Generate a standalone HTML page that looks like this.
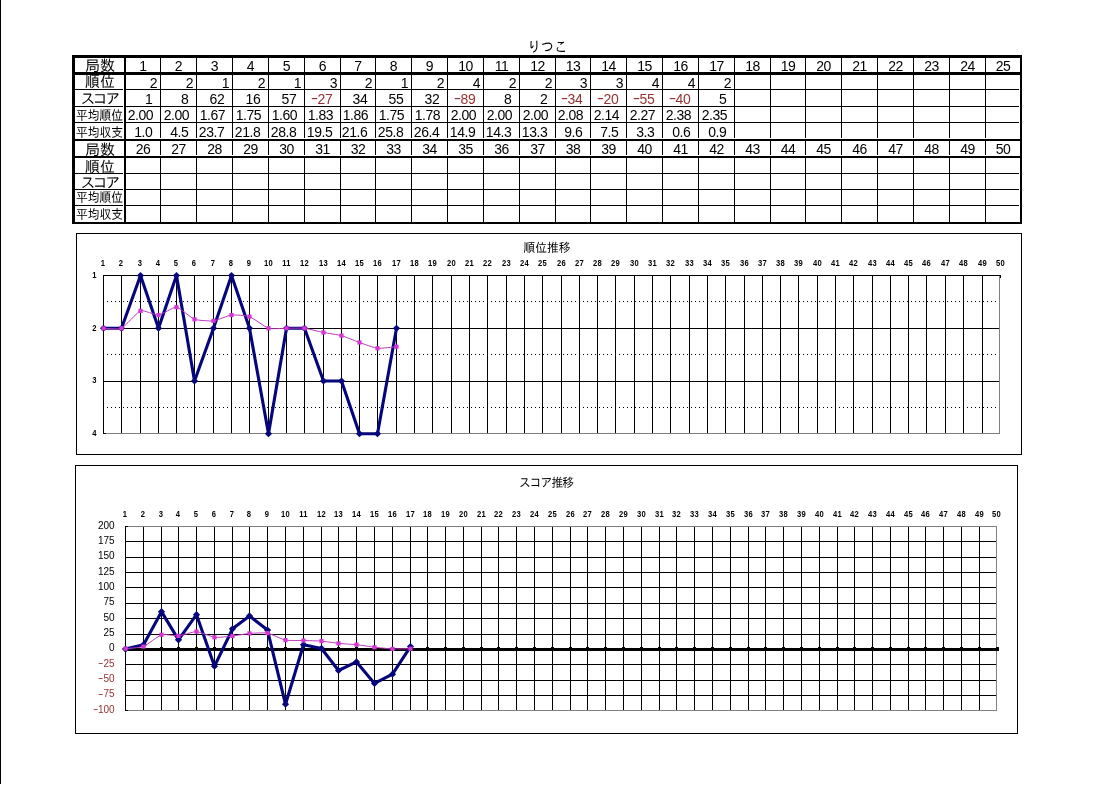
<!DOCTYPE html>
<html lang="ja">
<head>
<meta charset="utf-8">
<title>りつこ</title>
<style>
html,body{margin:0;padding:0;background:#fff;}
body{width:1112px;height:789px;position:relative;overflow:hidden;font-family:"Liberation Sans", "IPAGothic", "Noto Sans CJK JP", sans-serif;color:#000;}
svg{position:absolute;left:0;top:0;}
.t{position:absolute;white-space:nowrap;overflow:visible;}
.ttl{font-size:13.3px;transform:scaleY(1.1);}
.h14{font-size:15px;}
.hk{font-size:15px;letter-spacing:-2.7px;}
.h11{font-size:11.8px;transform:scaleY(1.13);}
.n{font-size:14px;letter-spacing:-0.45px;}
.m{display:inline-block;transform:scaleX(1.6);margin:0 1.5px 0 1.7px;position:relative;top:-0.8px;}
.yl .m{margin:0 1px 0 1.2px;}
.neg{color:#963232;}
.ct{font-size:11.8px;transform:scaleY(1.06);}
.ctk{letter-spacing:-1px;}
.cl{font-size:8px;font-weight:bold;letter-spacing:0.3px;transform:translate(-0.5px,0) scale(0.95,1.15);}
.c1{transform:translate(-0.95px,0) scale(0.95,1.15);}
.yl{font-size:10px;}
</style>
</head>
<body>
<svg width="1112" height="789" viewBox="0 0 1112 789">
<g shape-rendering="crispEdges">
<rect x="0" y="0" width="1" height="784" fill="#000"/>
<rect x="72" y="55" width="950" height="3" fill="#000"/>
<rect x="72" y="222" width="950" height="2" fill="#000"/>
<rect x="72" y="55" width="3" height="169" fill="#000"/>
<rect x="1020" y="55" width="2" height="169" fill="#000"/>
<rect x="124" y="55" width="2" height="169" fill="#000"/>
<rect x="72" y="72" width="950" height="3" fill="#000"/>
<rect x="72" y="139" width="950" height="2" fill="#000"/>
<rect x="72" y="156" width="950" height="2" fill="#000"/>
<rect x="75" y="89" width="48" height="1" fill="#000"/>
<rect x="126" y="89" width="893" height="1" fill="#000"/>
<rect x="75" y="106" width="48" height="1" fill="#000"/>
<rect x="126" y="106" width="893" height="1" fill="#000"/>
<rect x="75" y="122" width="48" height="1" fill="#000"/>
<rect x="126" y="122" width="893" height="1" fill="#000"/>
<rect x="75" y="173" width="48" height="1" fill="#000"/>
<rect x="126" y="173" width="893" height="1" fill="#000"/>
<rect x="75" y="189" width="48" height="1" fill="#000"/>
<rect x="126" y="189" width="893" height="1" fill="#000"/>
<rect x="75" y="205" width="48" height="1" fill="#000"/>
<rect x="126" y="205" width="893" height="1" fill="#000"/>
<rect x="160" y="58" width="1" height="80" fill="#000"/>
<rect x="160" y="141" width="1" height="14" fill="#000"/>
<rect x="160" y="158" width="1" height="64" fill="#000"/>
<rect x="196" y="58" width="1" height="80" fill="#000"/>
<rect x="196" y="141" width="1" height="14" fill="#000"/>
<rect x="196" y="158" width="1" height="64" fill="#000"/>
<rect x="232" y="58" width="1" height="80" fill="#000"/>
<rect x="232" y="141" width="1" height="14" fill="#000"/>
<rect x="232" y="158" width="1" height="64" fill="#000"/>
<rect x="268" y="58" width="1" height="80" fill="#000"/>
<rect x="268" y="141" width="1" height="14" fill="#000"/>
<rect x="268" y="158" width="1" height="64" fill="#000"/>
<rect x="304" y="58" width="1" height="80" fill="#000"/>
<rect x="304" y="141" width="1" height="14" fill="#000"/>
<rect x="304" y="158" width="1" height="64" fill="#000"/>
<rect x="340" y="58" width="1" height="80" fill="#000"/>
<rect x="340" y="141" width="1" height="14" fill="#000"/>
<rect x="340" y="158" width="1" height="64" fill="#000"/>
<rect x="375" y="58" width="1" height="80" fill="#000"/>
<rect x="375" y="141" width="1" height="14" fill="#000"/>
<rect x="375" y="158" width="1" height="64" fill="#000"/>
<rect x="411" y="58" width="1" height="80" fill="#000"/>
<rect x="411" y="141" width="1" height="14" fill="#000"/>
<rect x="411" y="158" width="1" height="64" fill="#000"/>
<rect x="447" y="58" width="1" height="80" fill="#000"/>
<rect x="447" y="141" width="1" height="14" fill="#000"/>
<rect x="447" y="158" width="1" height="64" fill="#000"/>
<rect x="483" y="58" width="1" height="80" fill="#000"/>
<rect x="483" y="141" width="1" height="14" fill="#000"/>
<rect x="483" y="158" width="1" height="64" fill="#000"/>
<rect x="519" y="58" width="1" height="80" fill="#000"/>
<rect x="519" y="141" width="1" height="14" fill="#000"/>
<rect x="519" y="158" width="1" height="64" fill="#000"/>
<rect x="555" y="58" width="1" height="80" fill="#000"/>
<rect x="555" y="141" width="1" height="14" fill="#000"/>
<rect x="555" y="158" width="1" height="64" fill="#000"/>
<rect x="590" y="58" width="1" height="80" fill="#000"/>
<rect x="590" y="141" width="1" height="14" fill="#000"/>
<rect x="590" y="158" width="1" height="64" fill="#000"/>
<rect x="626" y="58" width="1" height="80" fill="#000"/>
<rect x="626" y="141" width="1" height="14" fill="#000"/>
<rect x="626" y="158" width="1" height="64" fill="#000"/>
<rect x="662" y="58" width="1" height="80" fill="#000"/>
<rect x="662" y="141" width="1" height="14" fill="#000"/>
<rect x="662" y="158" width="1" height="64" fill="#000"/>
<rect x="698" y="58" width="1" height="80" fill="#000"/>
<rect x="698" y="141" width="1" height="14" fill="#000"/>
<rect x="698" y="158" width="1" height="64" fill="#000"/>
<rect x="734" y="58" width="1" height="80" fill="#000"/>
<rect x="734" y="141" width="1" height="14" fill="#000"/>
<rect x="734" y="158" width="1" height="64" fill="#000"/>
<rect x="770" y="58" width="1" height="80" fill="#000"/>
<rect x="770" y="141" width="1" height="14" fill="#000"/>
<rect x="770" y="158" width="1" height="64" fill="#000"/>
<rect x="805" y="58" width="1" height="80" fill="#000"/>
<rect x="805" y="141" width="1" height="14" fill="#000"/>
<rect x="805" y="158" width="1" height="64" fill="#000"/>
<rect x="841" y="58" width="1" height="80" fill="#000"/>
<rect x="841" y="141" width="1" height="14" fill="#000"/>
<rect x="841" y="158" width="1" height="64" fill="#000"/>
<rect x="877" y="58" width="1" height="80" fill="#000"/>
<rect x="877" y="141" width="1" height="14" fill="#000"/>
<rect x="877" y="158" width="1" height="64" fill="#000"/>
<rect x="913" y="58" width="1" height="80" fill="#000"/>
<rect x="913" y="141" width="1" height="14" fill="#000"/>
<rect x="913" y="158" width="1" height="64" fill="#000"/>
<rect x="949" y="58" width="1" height="80" fill="#000"/>
<rect x="949" y="141" width="1" height="14" fill="#000"/>
<rect x="949" y="158" width="1" height="64" fill="#000"/>
<rect x="985" y="58" width="1" height="80" fill="#000"/>
<rect x="985" y="141" width="1" height="14" fill="#000"/>
<rect x="985" y="158" width="1" height="64" fill="#000"/>
<rect x="76" y="233" width="946" height="1" fill="#000"/>
<rect x="76" y="454" width="946" height="1" fill="#000"/>
<rect x="76" y="233" width="1" height="222" fill="#000"/>
<rect x="1021" y="233" width="1" height="222" fill="#000"/>
<rect x="103" y="433" width="897" height="1" fill="#808080"/>
<rect x="999" y="275" width="1" height="159" fill="#808080"/>
<rect x="103" y="275" width="1" height="159" fill="#000"/>
<rect x="121" y="275" width="1" height="158" fill="#000"/>
<rect x="140" y="275" width="1" height="158" fill="#000"/>
<rect x="158" y="275" width="1" height="158" fill="#000"/>
<rect x="176" y="275" width="1" height="158" fill="#000"/>
<rect x="194" y="275" width="1" height="158" fill="#000"/>
<rect x="213" y="275" width="1" height="158" fill="#000"/>
<rect x="231" y="275" width="1" height="158" fill="#000"/>
<rect x="249" y="275" width="1" height="158" fill="#000"/>
<rect x="268" y="275" width="1" height="158" fill="#000"/>
<rect x="286" y="275" width="1" height="158" fill="#000"/>
<rect x="304" y="275" width="1" height="158" fill="#000"/>
<rect x="323" y="275" width="1" height="158" fill="#000"/>
<rect x="341" y="275" width="1" height="158" fill="#000"/>
<rect x="359" y="275" width="1" height="158" fill="#000"/>
<rect x="377" y="275" width="1" height="158" fill="#000"/>
<rect x="396" y="275" width="1" height="158" fill="#000"/>
<rect x="414" y="275" width="1" height="158" fill="#000"/>
<rect x="432" y="275" width="1" height="158" fill="#000"/>
<rect x="451" y="275" width="1" height="158" fill="#000"/>
<rect x="469" y="275" width="1" height="158" fill="#000"/>
<rect x="487" y="275" width="1" height="158" fill="#000"/>
<rect x="506" y="275" width="1" height="158" fill="#000"/>
<rect x="524" y="275" width="1" height="158" fill="#000"/>
<rect x="542" y="275" width="1" height="158" fill="#000"/>
<rect x="561" y="275" width="1" height="158" fill="#000"/>
<rect x="579" y="275" width="1" height="158" fill="#000"/>
<rect x="597" y="275" width="1" height="158" fill="#000"/>
<rect x="615" y="275" width="1" height="158" fill="#000"/>
<rect x="634" y="275" width="1" height="158" fill="#000"/>
<rect x="652" y="275" width="1" height="158" fill="#000"/>
<rect x="670" y="275" width="1" height="158" fill="#000"/>
<rect x="689" y="275" width="1" height="158" fill="#000"/>
<rect x="707" y="275" width="1" height="158" fill="#000"/>
<rect x="725" y="275" width="1" height="158" fill="#000"/>
<rect x="744" y="275" width="1" height="158" fill="#000"/>
<rect x="762" y="275" width="1" height="158" fill="#000"/>
<rect x="780" y="275" width="1" height="158" fill="#000"/>
<rect x="798" y="275" width="1" height="158" fill="#000"/>
<rect x="817" y="275" width="1" height="158" fill="#000"/>
<rect x="835" y="275" width="1" height="158" fill="#000"/>
<rect x="853" y="275" width="1" height="158" fill="#000"/>
<rect x="872" y="275" width="1" height="158" fill="#000"/>
<rect x="890" y="275" width="1" height="158" fill="#000"/>
<rect x="908" y="275" width="1" height="158" fill="#000"/>
<rect x="926" y="275" width="1" height="158" fill="#000"/>
<rect x="945" y="275" width="1" height="158" fill="#000"/>
<rect x="963" y="275" width="1" height="158" fill="#000"/>
<rect x="982" y="275" width="1" height="158" fill="#000"/>
<rect x="103" y="275" width="897" height="1" fill="#000"/>
<rect x="103" y="328" width="896" height="1" fill="#000"/>
<rect x="103" y="381" width="896" height="1" fill="#000"/>
<rect x="103" y="433" width="3" height="1" fill="#000"/>
<rect x="1000" y="275" width="1" height="3" fill="#000"/>
<rect x="75" y="465" width="943" height="1" fill="#000"/>
<rect x="75" y="733" width="943" height="1" fill="#000"/>
<rect x="75" y="465" width="1" height="269" fill="#000"/>
<rect x="1017" y="465" width="1" height="269" fill="#000"/>
<rect x="125" y="526" width="872" height="1" fill="#808080"/>
<rect x="125" y="710" width="872" height="1" fill="#808080"/>
<rect x="996" y="526" width="1" height="185" fill="#808080"/>
<rect x="125" y="526" width="1" height="185" fill="#000"/>
<rect x="143" y="527" width="1" height="183" fill="#000"/>
<rect x="161" y="527" width="1" height="183" fill="#000"/>
<rect x="178" y="527" width="1" height="183" fill="#000"/>
<rect x="196" y="527" width="1" height="183" fill="#000"/>
<rect x="214" y="527" width="1" height="183" fill="#000"/>
<rect x="232" y="527" width="1" height="183" fill="#000"/>
<rect x="249" y="527" width="1" height="183" fill="#000"/>
<rect x="267" y="527" width="1" height="183" fill="#000"/>
<rect x="285" y="527" width="1" height="183" fill="#000"/>
<rect x="303" y="527" width="1" height="183" fill="#000"/>
<rect x="321" y="527" width="1" height="183" fill="#000"/>
<rect x="338" y="527" width="1" height="183" fill="#000"/>
<rect x="356" y="527" width="1" height="183" fill="#000"/>
<rect x="374" y="527" width="1" height="183" fill="#000"/>
<rect x="392" y="527" width="1" height="183" fill="#000"/>
<rect x="410" y="527" width="1" height="183" fill="#000"/>
<rect x="427" y="527" width="1" height="183" fill="#000"/>
<rect x="445" y="527" width="1" height="183" fill="#000"/>
<rect x="463" y="527" width="1" height="183" fill="#000"/>
<rect x="481" y="527" width="1" height="183" fill="#000"/>
<rect x="498" y="527" width="1" height="183" fill="#000"/>
<rect x="516" y="527" width="1" height="183" fill="#000"/>
<rect x="534" y="527" width="1" height="183" fill="#000"/>
<rect x="552" y="527" width="1" height="183" fill="#000"/>
<rect x="570" y="527" width="1" height="183" fill="#000"/>
<rect x="587" y="527" width="1" height="183" fill="#000"/>
<rect x="605" y="527" width="1" height="183" fill="#000"/>
<rect x="623" y="527" width="1" height="183" fill="#000"/>
<rect x="641" y="527" width="1" height="183" fill="#000"/>
<rect x="659" y="527" width="1" height="183" fill="#000"/>
<rect x="676" y="527" width="1" height="183" fill="#000"/>
<rect x="694" y="527" width="1" height="183" fill="#000"/>
<rect x="712" y="527" width="1" height="183" fill="#000"/>
<rect x="730" y="527" width="1" height="183" fill="#000"/>
<rect x="748" y="527" width="1" height="183" fill="#000"/>
<rect x="765" y="527" width="1" height="183" fill="#000"/>
<rect x="783" y="527" width="1" height="183" fill="#000"/>
<rect x="801" y="527" width="1" height="183" fill="#000"/>
<rect x="819" y="527" width="1" height="183" fill="#000"/>
<rect x="837" y="527" width="1" height="183" fill="#000"/>
<rect x="854" y="527" width="1" height="183" fill="#000"/>
<rect x="872" y="527" width="1" height="183" fill="#000"/>
<rect x="890" y="527" width="1" height="183" fill="#000"/>
<rect x="908" y="527" width="1" height="183" fill="#000"/>
<rect x="925" y="527" width="1" height="183" fill="#000"/>
<rect x="943" y="527" width="1" height="183" fill="#000"/>
<rect x="961" y="527" width="1" height="183" fill="#000"/>
<rect x="979" y="527" width="1" height="183" fill="#000"/>
<rect x="125" y="695" width="871" height="1" fill="#000"/>
<rect x="125" y="680" width="871" height="1" fill="#000"/>
<rect x="125" y="664" width="871" height="1" fill="#000"/>
<rect x="125" y="634" width="871" height="1" fill="#000"/>
<rect x="125" y="618" width="871" height="1" fill="#000"/>
<rect x="125" y="603" width="871" height="1" fill="#000"/>
<rect x="125" y="587" width="871" height="1" fill="#000"/>
<rect x="125" y="572" width="871" height="1" fill="#000"/>
<rect x="125" y="557" width="871" height="1" fill="#000"/>
<rect x="125" y="541" width="871" height="1" fill="#000"/>
<rect x="125" y="648" width="874" height="3" fill="#000"/>
<rect x="125" y="647" width="2" height="1" fill="#000"/>
<rect x="142" y="647" width="3" height="1" fill="#000"/>
<rect x="160" y="647" width="3" height="1" fill="#000"/>
<rect x="177" y="647" width="3" height="1" fill="#000"/>
<rect x="195" y="647" width="3" height="1" fill="#000"/>
<rect x="213" y="647" width="3" height="1" fill="#000"/>
<rect x="231" y="647" width="3" height="1" fill="#000"/>
<rect x="248" y="647" width="3" height="1" fill="#000"/>
<rect x="266" y="647" width="3" height="1" fill="#000"/>
<rect x="284" y="647" width="3" height="1" fill="#000"/>
<rect x="302" y="647" width="3" height="1" fill="#000"/>
<rect x="320" y="647" width="3" height="1" fill="#000"/>
<rect x="337" y="647" width="3" height="1" fill="#000"/>
<rect x="355" y="647" width="3" height="1" fill="#000"/>
<rect x="373" y="647" width="3" height="1" fill="#000"/>
<rect x="391" y="647" width="3" height="1" fill="#000"/>
<rect x="409" y="647" width="3" height="1" fill="#000"/>
<rect x="426" y="647" width="3" height="1" fill="#000"/>
<rect x="444" y="647" width="3" height="1" fill="#000"/>
<rect x="462" y="647" width="3" height="1" fill="#000"/>
<rect x="480" y="647" width="3" height="1" fill="#000"/>
<rect x="497" y="647" width="3" height="1" fill="#000"/>
<rect x="515" y="647" width="3" height="1" fill="#000"/>
<rect x="533" y="647" width="3" height="1" fill="#000"/>
<rect x="551" y="647" width="3" height="1" fill="#000"/>
<rect x="569" y="647" width="3" height="1" fill="#000"/>
<rect x="586" y="647" width="3" height="1" fill="#000"/>
<rect x="604" y="647" width="3" height="1" fill="#000"/>
<rect x="622" y="647" width="3" height="1" fill="#000"/>
<rect x="640" y="647" width="3" height="1" fill="#000"/>
<rect x="658" y="647" width="3" height="1" fill="#000"/>
<rect x="675" y="647" width="3" height="1" fill="#000"/>
<rect x="693" y="647" width="3" height="1" fill="#000"/>
<rect x="711" y="647" width="3" height="1" fill="#000"/>
<rect x="729" y="647" width="3" height="1" fill="#000"/>
<rect x="747" y="647" width="3" height="1" fill="#000"/>
<rect x="764" y="647" width="3" height="1" fill="#000"/>
<rect x="782" y="647" width="3" height="1" fill="#000"/>
<rect x="800" y="647" width="3" height="1" fill="#000"/>
<rect x="818" y="647" width="3" height="1" fill="#000"/>
<rect x="836" y="647" width="3" height="1" fill="#000"/>
<rect x="853" y="647" width="3" height="1" fill="#000"/>
<rect x="871" y="647" width="3" height="1" fill="#000"/>
<rect x="889" y="647" width="3" height="1" fill="#000"/>
<rect x="907" y="647" width="3" height="1" fill="#000"/>
<rect x="924" y="647" width="3" height="1" fill="#000"/>
<rect x="942" y="647" width="3" height="1" fill="#000"/>
<rect x="960" y="647" width="3" height="1" fill="#000"/>
<rect x="978" y="647" width="3" height="1" fill="#000"/>
<rect x="996" y="647" width="3" height="1" fill="#000"/>
<rect x="125" y="710" width="3" height="1" fill="#000"/>
<rect x="125" y="526" width="3" height="1" fill="#000"/>
</g>
<g>
<line x1="107" y1="301.5" x2="999" y2="301.5" stroke="#000" stroke-width="1" stroke-dasharray="1 3" shape-rendering="crispEdges"/>
<line x1="107" y1="354.5" x2="999" y2="354.5" stroke="#000" stroke-width="1" stroke-dasharray="1 3" shape-rendering="crispEdges"/>
<line x1="107" y1="407.5" x2="999" y2="407.5" stroke="#000" stroke-width="1" stroke-dasharray="1 3" shape-rendering="crispEdges"/>
<path d="M103.50,328.25 L121.50,328.25 L140.50,275.50 L158.50,328.25 L176.50,275.50 L194.50,381.00 L213.50,328.25 L231.50,275.50 L249.50,328.25 L268.50,433.75 L286.50,328.25 L304.50,328.25 L323.50,381.00 L341.50,381.00 L359.50,433.75 L377.50,433.75 L396.50,328.25" fill="none" stroke="#06067c" stroke-width="3.1" stroke-linejoin="round" stroke-linecap="round"/>
<path d="M103.50,324.65 L107.10,328.25 L103.50,331.85 L99.90,328.25 Z" fill="#06067c"/>
<path d="M121.50,324.65 L125.10,328.25 L121.50,331.85 L117.90,328.25 Z" fill="#06067c"/>
<path d="M140.50,271.90 L144.10,275.50 L140.50,279.10 L136.90,275.50 Z" fill="#06067c"/>
<path d="M158.50,324.65 L162.10,328.25 L158.50,331.85 L154.90,328.25 Z" fill="#06067c"/>
<path d="M176.50,271.90 L180.10,275.50 L176.50,279.10 L172.90,275.50 Z" fill="#06067c"/>
<path d="M194.50,377.40 L198.10,381.00 L194.50,384.60 L190.90,381.00 Z" fill="#06067c"/>
<path d="M213.50,324.65 L217.10,328.25 L213.50,331.85 L209.90,328.25 Z" fill="#06067c"/>
<path d="M231.50,271.90 L235.10,275.50 L231.50,279.10 L227.90,275.50 Z" fill="#06067c"/>
<path d="M249.50,324.65 L253.10,328.25 L249.50,331.85 L245.90,328.25 Z" fill="#06067c"/>
<path d="M268.50,430.15 L272.10,433.75 L268.50,437.35 L264.90,433.75 Z" fill="#06067c"/>
<path d="M286.50,324.65 L290.10,328.25 L286.50,331.85 L282.90,328.25 Z" fill="#06067c"/>
<path d="M304.50,324.65 L308.10,328.25 L304.50,331.85 L300.90,328.25 Z" fill="#06067c"/>
<path d="M323.50,377.40 L327.10,381.00 L323.50,384.60 L319.90,381.00 Z" fill="#06067c"/>
<path d="M341.50,377.40 L345.10,381.00 L341.50,384.60 L337.90,381.00 Z" fill="#06067c"/>
<path d="M359.50,430.15 L363.10,433.75 L359.50,437.35 L355.90,433.75 Z" fill="#06067c"/>
<path d="M377.50,430.15 L381.10,433.75 L377.50,437.35 L373.90,433.75 Z" fill="#06067c"/>
<path d="M396.50,324.65 L400.10,328.25 L396.50,331.85 L392.90,328.25 Z" fill="#06067c"/>
<path d="M103.50,328.25 C105.00,328.25 118.42,329.70 121.50,328.25 C124.58,326.80 137.42,311.94 140.50,310.84 C143.58,309.74 155.50,315.37 158.50,315.06 C161.50,314.75 173.50,306.80 176.50,307.15 C179.50,307.50 191.42,318.14 194.50,319.28 C197.58,320.43 210.42,321.22 213.50,320.87 C216.58,320.51 228.50,315.41 231.50,315.06 C234.50,314.71 246.42,315.55 249.50,316.64 C252.58,317.74 265.42,327.28 268.50,328.25 C271.58,329.22 283.50,328.25 286.50,328.25 C289.50,328.25 301.42,327.90 304.50,328.25 C307.58,328.60 320.42,331.85 323.50,332.47 C326.58,333.09 338.50,334.80 341.50,335.63 C344.50,336.47 356.50,341.44 359.50,342.49 C362.50,343.55 374.42,347.94 377.50,348.29 C380.58,348.65 394.92,346.84 396.50,346.71" fill="none" stroke="#bd38bd" stroke-width="1"/>
<path d="M101.40,326.15 h4.2 v4.2 h-4.2 Z" fill="#d636d6"/>
<path d="M119.40,326.15 h4.2 v4.2 h-4.2 Z" fill="#d636d6"/>
<path d="M138.40,308.74 h4.2 v4.2 h-4.2 Z" fill="#d636d6"/>
<path d="M156.40,312.96 h4.2 v4.2 h-4.2 Z" fill="#d636d6"/>
<path d="M174.40,305.05 h4.2 v4.2 h-4.2 Z" fill="#d636d6"/>
<path d="M192.40,317.18 h4.2 v4.2 h-4.2 Z" fill="#d636d6"/>
<path d="M211.40,318.76 h4.2 v4.2 h-4.2 Z" fill="#d636d6"/>
<path d="M229.40,312.96 h4.2 v4.2 h-4.2 Z" fill="#d636d6"/>
<path d="M247.40,314.54 h4.2 v4.2 h-4.2 Z" fill="#d636d6"/>
<path d="M266.40,326.15 h4.2 v4.2 h-4.2 Z" fill="#d636d6"/>
<path d="M284.40,326.15 h4.2 v4.2 h-4.2 Z" fill="#d636d6"/>
<path d="M302.40,326.15 h4.2 v4.2 h-4.2 Z" fill="#d636d6"/>
<path d="M321.40,330.37 h4.2 v4.2 h-4.2 Z" fill="#d636d6"/>
<path d="M339.40,333.53 h4.2 v4.2 h-4.2 Z" fill="#d636d6"/>
<path d="M357.40,340.39 h4.2 v4.2 h-4.2 Z" fill="#d636d6"/>
<path d="M375.40,346.19 h4.2 v4.2 h-4.2 Z" fill="#d636d6"/>
<path d="M394.40,344.61 h4.2 v4.2 h-4.2 Z" fill="#d636d6"/>
<path d="M125.50,649.06 L143.50,644.76 L161.50,611.64 L178.50,639.86 L196.50,614.71 L214.50,666.23 L232.50,628.82 L249.50,615.94 L267.50,630.04 L285.50,704.26 L303.50,644.76 L321.50,648.44 L338.50,670.52 L356.50,661.94 L374.50,683.40 L392.50,674.20 L410.50,646.60" fill="none" stroke="#06067c" stroke-width="3.1" stroke-linejoin="round" stroke-linecap="round"/>
<path d="M125.50,645.46 L129.10,649.06 L125.50,652.66 L121.90,649.06 Z" fill="#06067c"/>
<path d="M143.50,641.16 L147.10,644.76 L143.50,648.36 L139.90,644.76 Z" fill="#06067c"/>
<path d="M161.50,608.04 L165.10,611.64 L161.50,615.24 L157.90,611.64 Z" fill="#06067c"/>
<path d="M178.50,636.26 L182.10,639.86 L178.50,643.46 L174.90,639.86 Z" fill="#06067c"/>
<path d="M196.50,611.11 L200.10,614.71 L196.50,618.31 L192.90,614.71 Z" fill="#06067c"/>
<path d="M214.50,662.63 L218.10,666.23 L214.50,669.83 L210.90,666.23 Z" fill="#06067c"/>
<path d="M232.50,625.22 L236.10,628.82 L232.50,632.42 L228.90,628.82 Z" fill="#06067c"/>
<path d="M249.50,612.34 L253.10,615.94 L249.50,619.54 L245.90,615.94 Z" fill="#06067c"/>
<path d="M267.50,626.44 L271.10,630.04 L267.50,633.64 L263.90,630.04 Z" fill="#06067c"/>
<path d="M285.50,700.66 L289.10,704.26 L285.50,707.86 L281.90,704.26 Z" fill="#06067c"/>
<path d="M303.50,641.16 L307.10,644.76 L303.50,648.36 L299.90,644.76 Z" fill="#06067c"/>
<path d="M321.50,644.84 L325.10,648.44 L321.50,652.04 L317.90,648.44 Z" fill="#06067c"/>
<path d="M338.50,666.92 L342.10,670.52 L338.50,674.12 L334.90,670.52 Z" fill="#06067c"/>
<path d="M356.50,658.34 L360.10,661.94 L356.50,665.54 L352.90,661.94 Z" fill="#06067c"/>
<path d="M374.50,679.80 L378.10,683.40 L374.50,687.00 L370.90,683.40 Z" fill="#06067c"/>
<path d="M392.50,670.60 L396.10,674.20 L392.50,677.80 L388.90,674.20 Z" fill="#06067c"/>
<path d="M410.50,643.00 L414.10,646.60 L410.50,650.20 L406.90,646.60 Z" fill="#06067c"/>
<path d="M125.50,648.66 C127.00,648.48 140.50,647.67 143.50,646.51 C146.50,645.35 158.58,635.62 161.50,634.73 C164.42,633.85 175.58,636.16 178.50,635.90 C181.42,635.64 193.50,631.49 196.50,631.61 C199.50,631.72 211.50,636.94 214.50,637.31 C217.50,637.68 229.58,636.34 232.50,636.02 C235.42,635.70 246.58,633.69 249.50,633.45 C252.42,633.20 264.50,632.52 267.50,633.08 C270.50,633.64 282.50,639.51 285.50,640.13 C288.50,640.75 300.50,640.42 303.50,640.50 C306.50,640.58 318.58,640.87 321.50,641.11 C324.42,641.35 335.58,643.09 338.50,643.38 C341.42,643.68 353.50,644.35 356.50,644.67 C359.50,644.99 371.50,646.89 374.50,647.25 C377.50,647.60 389.50,648.78 392.50,648.90 C395.50,649.02 409.00,648.73 410.50,648.72" fill="none" stroke="#bd38bd" stroke-width="1"/>
<path d="M123.40,646.56 h4.2 v4.2 h-4.2 Z" fill="#d636d6"/>
<path d="M141.40,644.41 h4.2 v4.2 h-4.2 Z" fill="#d636d6"/>
<path d="M159.40,632.63 h4.2 v4.2 h-4.2 Z" fill="#d636d6"/>
<path d="M176.40,633.80 h4.2 v4.2 h-4.2 Z" fill="#d636d6"/>
<path d="M194.40,629.51 h4.2 v4.2 h-4.2 Z" fill="#d636d6"/>
<path d="M212.40,635.21 h4.2 v4.2 h-4.2 Z" fill="#d636d6"/>
<path d="M230.40,633.92 h4.2 v4.2 h-4.2 Z" fill="#d636d6"/>
<path d="M247.40,631.35 h4.2 v4.2 h-4.2 Z" fill="#d636d6"/>
<path d="M265.40,630.98 h4.2 v4.2 h-4.2 Z" fill="#d636d6"/>
<path d="M283.40,638.03 h4.2 v4.2 h-4.2 Z" fill="#d636d6"/>
<path d="M301.40,638.40 h4.2 v4.2 h-4.2 Z" fill="#d636d6"/>
<path d="M319.40,639.01 h4.2 v4.2 h-4.2 Z" fill="#d636d6"/>
<path d="M336.40,641.28 h4.2 v4.2 h-4.2 Z" fill="#d636d6"/>
<path d="M354.40,642.57 h4.2 v4.2 h-4.2 Z" fill="#d636d6"/>
<path d="M372.40,645.15 h4.2 v4.2 h-4.2 Z" fill="#d636d6"/>
<path d="M390.40,646.80 h4.2 v4.2 h-4.2 Z" fill="#d636d6"/>
<path d="M408.40,646.62 h4.2 v4.2 h-4.2 Z" fill="#d636d6"/>
</g>
</svg>
<div class="t ttl" style="left:497.5px;top:39.8px;width:100px;height:15px;line-height:15px;text-align:center;">りつこ</div>
<div class="t h14" style="left:75.5px;top:58.8px;width:49px;height:14px;line-height:14px;text-align:center;">局数</div>
<div class="t h14" style="left:75.5px;top:75.3px;width:49px;height:14px;line-height:14px;text-align:center;">順位</div>
<div class="t hk" style="left:74.5px;top:90.8px;width:49px;height:16px;line-height:16px;text-align:center;">スコア</div>
<div class="t h11" style="left:75px;top:108.6px;width:49px;height:15px;line-height:15px;text-align:center;">平均順位</div>
<div class="t h11" style="left:75px;top:123.8px;width:49px;height:16px;line-height:16px;text-align:center;">平均収支</div>
<div class="t h14" style="left:75.5px;top:142.8px;width:49px;height:13px;line-height:13px;text-align:center;">局数</div>
<div class="t h14" style="left:75.5px;top:159.3px;width:49px;height:15px;line-height:15px;text-align:center;">順位</div>
<div class="t hk" style="left:74.5px;top:175.4px;width:49px;height:15px;line-height:15px;text-align:center;">スコア</div>
<div class="t h11" style="left:75px;top:191.0px;width:49px;height:15px;line-height:15px;text-align:center;">平均順位</div>
<div class="t h11" style="left:75px;top:207.8px;width:49px;height:15px;line-height:15px;text-align:center;">平均収支</div>
<div class="t n" style="left:126px;top:58.5px;width:34px;height:14px;line-height:14px;text-align:center;">1</div>
<div class="t n" style="left:126px;top:143px;width:34px;height:13px;line-height:13px;text-align:center;">26</div>
<div class="t n" style="left:117.19999999999999px;top:75.5px;width:40px;height:14px;line-height:14px;text-align:right;">2</div>
<div class="t n" style="left:112.30000000000001px;top:91px;width:40px;height:16px;line-height:16px;text-align:right;">1</div>
<div class="t n" style="left:113.19999999999999px;top:108.2px;width:40px;height:15px;line-height:15px;text-align:right;">2.00</div>
<div class="t n" style="left:112.30000000000001px;top:123.8px;width:40px;height:16px;line-height:16px;text-align:right;">1.0</div>
<div class="t n" style="left:161px;top:58.5px;width:35px;height:14px;line-height:14px;text-align:center;">2</div>
<div class="t n" style="left:161px;top:143px;width:35px;height:13px;line-height:13px;text-align:center;">27</div>
<div class="t n" style="left:153.2px;top:75.5px;width:40px;height:14px;line-height:14px;text-align:right;">2</div>
<div class="t n" style="left:148.3px;top:91px;width:40px;height:16px;line-height:16px;text-align:right;">8</div>
<div class="t n" style="left:149.2px;top:108.2px;width:40px;height:15px;line-height:15px;text-align:right;">2.00</div>
<div class="t n" style="left:148.3px;top:123.8px;width:40px;height:16px;line-height:16px;text-align:right;">4.5</div>
<div class="t n" style="left:197px;top:58.5px;width:35px;height:14px;line-height:14px;text-align:center;">3</div>
<div class="t n" style="left:197px;top:143px;width:35px;height:13px;line-height:13px;text-align:center;">28</div>
<div class="t n" style="left:189.2px;top:75.5px;width:40px;height:14px;line-height:14px;text-align:right;">1</div>
<div class="t n" style="left:184.3px;top:91px;width:40px;height:16px;line-height:16px;text-align:right;">62</div>
<div class="t n" style="left:185.2px;top:108.2px;width:40px;height:15px;line-height:15px;text-align:right;">1.67</div>
<div class="t n" style="left:184.3px;top:123.8px;width:40px;height:16px;line-height:16px;text-align:right;">23.7</div>
<div class="t n" style="left:233px;top:58.5px;width:35px;height:14px;line-height:14px;text-align:center;">4</div>
<div class="t n" style="left:233px;top:143px;width:35px;height:13px;line-height:13px;text-align:center;">29</div>
<div class="t n" style="left:225.2px;top:75.5px;width:40px;height:14px;line-height:14px;text-align:right;">2</div>
<div class="t n" style="left:220.3px;top:91px;width:40px;height:16px;line-height:16px;text-align:right;">16</div>
<div class="t n" style="left:221.2px;top:108.2px;width:40px;height:15px;line-height:15px;text-align:right;">1.75</div>
<div class="t n" style="left:220.3px;top:123.8px;width:40px;height:16px;line-height:16px;text-align:right;">21.8</div>
<div class="t n" style="left:269px;top:58.5px;width:35px;height:14px;line-height:14px;text-align:center;">5</div>
<div class="t n" style="left:269px;top:143px;width:35px;height:13px;line-height:13px;text-align:center;">30</div>
<div class="t n" style="left:261.2px;top:75.5px;width:40px;height:14px;line-height:14px;text-align:right;">1</div>
<div class="t n" style="left:256.3px;top:91px;width:40px;height:16px;line-height:16px;text-align:right;">57</div>
<div class="t n" style="left:257.2px;top:108.2px;width:40px;height:15px;line-height:15px;text-align:right;">1.60</div>
<div class="t n" style="left:256.3px;top:123.8px;width:40px;height:16px;line-height:16px;text-align:right;">28.8</div>
<div class="t n" style="left:305px;top:58.5px;width:35px;height:14px;line-height:14px;text-align:center;">6</div>
<div class="t n" style="left:305px;top:143px;width:35px;height:13px;line-height:13px;text-align:center;">31</div>
<div class="t n" style="left:297.2px;top:75.5px;width:40px;height:14px;line-height:14px;text-align:right;">3</div>
<div class="t n neg" style="left:292.3px;top:91px;width:40px;height:16px;line-height:16px;text-align:right;"><span class="m">-</span>27</div>
<div class="t n" style="left:293.2px;top:108.2px;width:40px;height:15px;line-height:15px;text-align:right;">1.83</div>
<div class="t n" style="left:292.3px;top:123.8px;width:40px;height:16px;line-height:16px;text-align:right;">19.5</div>
<div class="t n" style="left:341px;top:58.5px;width:34px;height:14px;line-height:14px;text-align:center;">7</div>
<div class="t n" style="left:341px;top:143px;width:34px;height:13px;line-height:13px;text-align:center;">32</div>
<div class="t n" style="left:332.2px;top:75.5px;width:40px;height:14px;line-height:14px;text-align:right;">2</div>
<div class="t n" style="left:327.3px;top:91px;width:40px;height:16px;line-height:16px;text-align:right;">34</div>
<div class="t n" style="left:328.2px;top:108.2px;width:40px;height:15px;line-height:15px;text-align:right;">1.86</div>
<div class="t n" style="left:327.3px;top:123.8px;width:40px;height:16px;line-height:16px;text-align:right;">21.6</div>
<div class="t n" style="left:376px;top:58.5px;width:35px;height:14px;line-height:14px;text-align:center;">8</div>
<div class="t n" style="left:376px;top:143px;width:35px;height:13px;line-height:13px;text-align:center;">33</div>
<div class="t n" style="left:368.2px;top:75.5px;width:40px;height:14px;line-height:14px;text-align:right;">1</div>
<div class="t n" style="left:363.3px;top:91px;width:40px;height:16px;line-height:16px;text-align:right;">55</div>
<div class="t n" style="left:364.2px;top:108.2px;width:40px;height:15px;line-height:15px;text-align:right;">1.75</div>
<div class="t n" style="left:363.3px;top:123.8px;width:40px;height:16px;line-height:16px;text-align:right;">25.8</div>
<div class="t n" style="left:412px;top:58.5px;width:35px;height:14px;line-height:14px;text-align:center;">9</div>
<div class="t n" style="left:412px;top:143px;width:35px;height:13px;line-height:13px;text-align:center;">34</div>
<div class="t n" style="left:404.2px;top:75.5px;width:40px;height:14px;line-height:14px;text-align:right;">2</div>
<div class="t n" style="left:399.3px;top:91px;width:40px;height:16px;line-height:16px;text-align:right;">32</div>
<div class="t n" style="left:400.2px;top:108.2px;width:40px;height:15px;line-height:15px;text-align:right;">1.78</div>
<div class="t n" style="left:399.3px;top:123.8px;width:40px;height:16px;line-height:16px;text-align:right;">26.4</div>
<div class="t n" style="left:448px;top:58.5px;width:35px;height:14px;line-height:14px;text-align:center;">10</div>
<div class="t n" style="left:448px;top:143px;width:35px;height:13px;line-height:13px;text-align:center;">35</div>
<div class="t n" style="left:440.2px;top:75.5px;width:40px;height:14px;line-height:14px;text-align:right;">4</div>
<div class="t n neg" style="left:435.3px;top:91px;width:40px;height:16px;line-height:16px;text-align:right;"><span class="m">-</span>89</div>
<div class="t n" style="left:436.2px;top:108.2px;width:40px;height:15px;line-height:15px;text-align:right;">2.00</div>
<div class="t n" style="left:435.3px;top:123.8px;width:40px;height:16px;line-height:16px;text-align:right;">14.9</div>
<div class="t n" style="left:484px;top:58.5px;width:35px;height:14px;line-height:14px;text-align:center;">11</div>
<div class="t n" style="left:484px;top:143px;width:35px;height:13px;line-height:13px;text-align:center;">36</div>
<div class="t n" style="left:476.20000000000005px;top:75.5px;width:40px;height:14px;line-height:14px;text-align:right;">2</div>
<div class="t n" style="left:471.3px;top:91px;width:40px;height:16px;line-height:16px;text-align:right;">8</div>
<div class="t n" style="left:472.20000000000005px;top:108.2px;width:40px;height:15px;line-height:15px;text-align:right;">2.00</div>
<div class="t n" style="left:471.3px;top:123.8px;width:40px;height:16px;line-height:16px;text-align:right;">14.3</div>
<div class="t n" style="left:520px;top:58.5px;width:35px;height:14px;line-height:14px;text-align:center;">12</div>
<div class="t n" style="left:520px;top:143px;width:35px;height:13px;line-height:13px;text-align:center;">37</div>
<div class="t n" style="left:512.2px;top:75.5px;width:40px;height:14px;line-height:14px;text-align:right;">2</div>
<div class="t n" style="left:507.29999999999995px;top:91px;width:40px;height:16px;line-height:16px;text-align:right;">2</div>
<div class="t n" style="left:508.20000000000005px;top:108.2px;width:40px;height:15px;line-height:15px;text-align:right;">2.00</div>
<div class="t n" style="left:507.29999999999995px;top:123.8px;width:40px;height:16px;line-height:16px;text-align:right;">13.3</div>
<div class="t n" style="left:556px;top:58.5px;width:34px;height:14px;line-height:14px;text-align:center;">13</div>
<div class="t n" style="left:556px;top:143px;width:34px;height:13px;line-height:13px;text-align:center;">38</div>
<div class="t n" style="left:547.2px;top:75.5px;width:40px;height:14px;line-height:14px;text-align:right;">3</div>
<div class="t n neg" style="left:542.3px;top:91px;width:40px;height:16px;line-height:16px;text-align:right;"><span class="m">-</span>34</div>
<div class="t n" style="left:543.2px;top:108.2px;width:40px;height:15px;line-height:15px;text-align:right;">2.08</div>
<div class="t n" style="left:542.3px;top:123.8px;width:40px;height:16px;line-height:16px;text-align:right;">9.6</div>
<div class="t n" style="left:591px;top:58.5px;width:35px;height:14px;line-height:14px;text-align:center;">14</div>
<div class="t n" style="left:591px;top:143px;width:35px;height:13px;line-height:13px;text-align:center;">39</div>
<div class="t n" style="left:583.2px;top:75.5px;width:40px;height:14px;line-height:14px;text-align:right;">3</div>
<div class="t n neg" style="left:578.3px;top:91px;width:40px;height:16px;line-height:16px;text-align:right;"><span class="m">-</span>20</div>
<div class="t n" style="left:579.2px;top:108.2px;width:40px;height:15px;line-height:15px;text-align:right;">2.14</div>
<div class="t n" style="left:578.3px;top:123.8px;width:40px;height:16px;line-height:16px;text-align:right;">7.5</div>
<div class="t n" style="left:627px;top:58.5px;width:35px;height:14px;line-height:14px;text-align:center;">15</div>
<div class="t n" style="left:627px;top:143px;width:35px;height:13px;line-height:13px;text-align:center;">40</div>
<div class="t n" style="left:619.2px;top:75.5px;width:40px;height:14px;line-height:14px;text-align:right;">4</div>
<div class="t n neg" style="left:614.3px;top:91px;width:40px;height:16px;line-height:16px;text-align:right;"><span class="m">-</span>55</div>
<div class="t n" style="left:615.2px;top:108.2px;width:40px;height:15px;line-height:15px;text-align:right;">2.27</div>
<div class="t n" style="left:614.3px;top:123.8px;width:40px;height:16px;line-height:16px;text-align:right;">3.3</div>
<div class="t n" style="left:663px;top:58.5px;width:35px;height:14px;line-height:14px;text-align:center;">16</div>
<div class="t n" style="left:663px;top:143px;width:35px;height:13px;line-height:13px;text-align:center;">41</div>
<div class="t n" style="left:655.2px;top:75.5px;width:40px;height:14px;line-height:14px;text-align:right;">4</div>
<div class="t n neg" style="left:650.3px;top:91px;width:40px;height:16px;line-height:16px;text-align:right;"><span class="m">-</span>40</div>
<div class="t n" style="left:651.2px;top:108.2px;width:40px;height:15px;line-height:15px;text-align:right;">2.38</div>
<div class="t n" style="left:650.3px;top:123.8px;width:40px;height:16px;line-height:16px;text-align:right;">0.6</div>
<div class="t n" style="left:699px;top:58.5px;width:35px;height:14px;line-height:14px;text-align:center;">17</div>
<div class="t n" style="left:699px;top:143px;width:35px;height:13px;line-height:13px;text-align:center;">42</div>
<div class="t n" style="left:691.2px;top:75.5px;width:40px;height:14px;line-height:14px;text-align:right;">2</div>
<div class="t n" style="left:686.3px;top:91px;width:40px;height:16px;line-height:16px;text-align:right;">5</div>
<div class="t n" style="left:687.2px;top:108.2px;width:40px;height:15px;line-height:15px;text-align:right;">2.35</div>
<div class="t n" style="left:686.3px;top:123.8px;width:40px;height:16px;line-height:16px;text-align:right;">0.9</div>
<div class="t n" style="left:735px;top:58.5px;width:35px;height:14px;line-height:14px;text-align:center;">18</div>
<div class="t n" style="left:735px;top:143px;width:35px;height:13px;line-height:13px;text-align:center;">43</div>
<div class="t n" style="left:771px;top:58.5px;width:34px;height:14px;line-height:14px;text-align:center;">19</div>
<div class="t n" style="left:771px;top:143px;width:34px;height:13px;line-height:13px;text-align:center;">44</div>
<div class="t n" style="left:806px;top:58.5px;width:35px;height:14px;line-height:14px;text-align:center;">20</div>
<div class="t n" style="left:806px;top:143px;width:35px;height:13px;line-height:13px;text-align:center;">45</div>
<div class="t n" style="left:842px;top:58.5px;width:35px;height:14px;line-height:14px;text-align:center;">21</div>
<div class="t n" style="left:842px;top:143px;width:35px;height:13px;line-height:13px;text-align:center;">46</div>
<div class="t n" style="left:878px;top:58.5px;width:35px;height:14px;line-height:14px;text-align:center;">22</div>
<div class="t n" style="left:878px;top:143px;width:35px;height:13px;line-height:13px;text-align:center;">47</div>
<div class="t n" style="left:914px;top:58.5px;width:35px;height:14px;line-height:14px;text-align:center;">23</div>
<div class="t n" style="left:914px;top:143px;width:35px;height:13px;line-height:13px;text-align:center;">48</div>
<div class="t n" style="left:950px;top:58.5px;width:35px;height:14px;line-height:14px;text-align:center;">24</div>
<div class="t n" style="left:950px;top:143px;width:35px;height:13px;line-height:13px;text-align:center;">49</div>
<div class="t n" style="left:986px;top:58.5px;width:34px;height:14px;line-height:14px;text-align:center;">25</div>
<div class="t n" style="left:986px;top:143px;width:34px;height:13px;line-height:13px;text-align:center;">50</div>
<div class="t ct" style="left:497px;top:241px;width:100px;height:14px;line-height:14px;text-align:center;">順位推移</div>
<div class="t cl c1" style="left:93.5px;top:258.6px;width:20px;height:10px;line-height:10px;text-align:center;">1</div>
<div class="t cl c1" style="left:111.5px;top:258.6px;width:20px;height:10px;line-height:10px;text-align:center;">2</div>
<div class="t cl c1" style="left:130.5px;top:258.6px;width:20px;height:10px;line-height:10px;text-align:center;">3</div>
<div class="t cl c1" style="left:148.5px;top:258.6px;width:20px;height:10px;line-height:10px;text-align:center;">4</div>
<div class="t cl c1" style="left:166.5px;top:258.6px;width:20px;height:10px;line-height:10px;text-align:center;">5</div>
<div class="t cl c1" style="left:184.5px;top:258.6px;width:20px;height:10px;line-height:10px;text-align:center;">6</div>
<div class="t cl c1" style="left:203.5px;top:258.6px;width:20px;height:10px;line-height:10px;text-align:center;">7</div>
<div class="t cl c1" style="left:221.5px;top:258.6px;width:20px;height:10px;line-height:10px;text-align:center;">8</div>
<div class="t cl c1" style="left:239.5px;top:258.6px;width:20px;height:10px;line-height:10px;text-align:center;">9</div>
<div class="t cl" style="left:258.5px;top:258.6px;width:20px;height:10px;line-height:10px;text-align:center;">10</div>
<div class="t cl" style="left:276.5px;top:258.6px;width:20px;height:10px;line-height:10px;text-align:center;">11</div>
<div class="t cl" style="left:294.5px;top:258.6px;width:20px;height:10px;line-height:10px;text-align:center;">12</div>
<div class="t cl" style="left:313.5px;top:258.6px;width:20px;height:10px;line-height:10px;text-align:center;">13</div>
<div class="t cl" style="left:331.5px;top:258.6px;width:20px;height:10px;line-height:10px;text-align:center;">14</div>
<div class="t cl" style="left:349.5px;top:258.6px;width:20px;height:10px;line-height:10px;text-align:center;">15</div>
<div class="t cl" style="left:367.5px;top:258.6px;width:20px;height:10px;line-height:10px;text-align:center;">16</div>
<div class="t cl" style="left:386.5px;top:258.6px;width:20px;height:10px;line-height:10px;text-align:center;">17</div>
<div class="t cl" style="left:404.5px;top:258.6px;width:20px;height:10px;line-height:10px;text-align:center;">18</div>
<div class="t cl" style="left:422.5px;top:258.6px;width:20px;height:10px;line-height:10px;text-align:center;">19</div>
<div class="t cl" style="left:441.5px;top:258.6px;width:20px;height:10px;line-height:10px;text-align:center;">20</div>
<div class="t cl" style="left:459.5px;top:258.6px;width:20px;height:10px;line-height:10px;text-align:center;">21</div>
<div class="t cl" style="left:477.5px;top:258.6px;width:20px;height:10px;line-height:10px;text-align:center;">22</div>
<div class="t cl" style="left:496.5px;top:258.6px;width:20px;height:10px;line-height:10px;text-align:center;">23</div>
<div class="t cl" style="left:514.5px;top:258.6px;width:20px;height:10px;line-height:10px;text-align:center;">24</div>
<div class="t cl" style="left:532.5px;top:258.6px;width:20px;height:10px;line-height:10px;text-align:center;">25</div>
<div class="t cl" style="left:551.5px;top:258.6px;width:20px;height:10px;line-height:10px;text-align:center;">26</div>
<div class="t cl" style="left:569.5px;top:258.6px;width:20px;height:10px;line-height:10px;text-align:center;">27</div>
<div class="t cl" style="left:587.5px;top:258.6px;width:20px;height:10px;line-height:10px;text-align:center;">28</div>
<div class="t cl" style="left:605.5px;top:258.6px;width:20px;height:10px;line-height:10px;text-align:center;">29</div>
<div class="t cl" style="left:624.5px;top:258.6px;width:20px;height:10px;line-height:10px;text-align:center;">30</div>
<div class="t cl" style="left:642.5px;top:258.6px;width:20px;height:10px;line-height:10px;text-align:center;">31</div>
<div class="t cl" style="left:660.5px;top:258.6px;width:20px;height:10px;line-height:10px;text-align:center;">32</div>
<div class="t cl" style="left:679.5px;top:258.6px;width:20px;height:10px;line-height:10px;text-align:center;">33</div>
<div class="t cl" style="left:697.5px;top:258.6px;width:20px;height:10px;line-height:10px;text-align:center;">34</div>
<div class="t cl" style="left:715.5px;top:258.6px;width:20px;height:10px;line-height:10px;text-align:center;">35</div>
<div class="t cl" style="left:734.5px;top:258.6px;width:20px;height:10px;line-height:10px;text-align:center;">36</div>
<div class="t cl" style="left:752.5px;top:258.6px;width:20px;height:10px;line-height:10px;text-align:center;">37</div>
<div class="t cl" style="left:770.5px;top:258.6px;width:20px;height:10px;line-height:10px;text-align:center;">38</div>
<div class="t cl" style="left:788.5px;top:258.6px;width:20px;height:10px;line-height:10px;text-align:center;">39</div>
<div class="t cl" style="left:807.5px;top:258.6px;width:20px;height:10px;line-height:10px;text-align:center;">40</div>
<div class="t cl" style="left:825.5px;top:258.6px;width:20px;height:10px;line-height:10px;text-align:center;">41</div>
<div class="t cl" style="left:843.5px;top:258.6px;width:20px;height:10px;line-height:10px;text-align:center;">42</div>
<div class="t cl" style="left:862.5px;top:258.6px;width:20px;height:10px;line-height:10px;text-align:center;">43</div>
<div class="t cl" style="left:880.5px;top:258.6px;width:20px;height:10px;line-height:10px;text-align:center;">44</div>
<div class="t cl" style="left:898.5px;top:258.6px;width:20px;height:10px;line-height:10px;text-align:center;">45</div>
<div class="t cl" style="left:916.5px;top:258.6px;width:20px;height:10px;line-height:10px;text-align:center;">46</div>
<div class="t cl" style="left:935.5px;top:258.6px;width:20px;height:10px;line-height:10px;text-align:center;">47</div>
<div class="t cl" style="left:953.5px;top:258.6px;width:20px;height:10px;line-height:10px;text-align:center;">48</div>
<div class="t cl" style="left:972.5px;top:258.6px;width:20px;height:10px;line-height:10px;text-align:center;">49</div>
<div class="t cl" style="left:990.5px;top:258.6px;width:20px;height:10px;line-height:10px;text-align:center;">50</div>
<div class="t cl" style="left:85px;top:270.8px;width:20px;height:10px;line-height:10px;text-align:center;">1</div>
<div class="t cl" style="left:85px;top:323.55px;width:20px;height:10px;line-height:10px;text-align:center;">2</div>
<div class="t cl" style="left:85px;top:376.3px;width:20px;height:10px;line-height:10px;text-align:center;">3</div>
<div class="t cl" style="left:85px;top:429.05px;width:20px;height:10px;line-height:10px;text-align:center;">4</div>
<div class="t ct ctk" style="left:496px;top:476px;width:100px;height:14px;line-height:14px;text-align:center;">スコア推移</div>
<div class="t cl c1" style="left:115.5px;top:509.9px;width:20px;height:10px;line-height:10px;text-align:center;">1</div>
<div class="t cl c1" style="left:133.5px;top:509.9px;width:20px;height:10px;line-height:10px;text-align:center;">2</div>
<div class="t cl c1" style="left:151.5px;top:509.9px;width:20px;height:10px;line-height:10px;text-align:center;">3</div>
<div class="t cl c1" style="left:168.5px;top:509.9px;width:20px;height:10px;line-height:10px;text-align:center;">4</div>
<div class="t cl c1" style="left:186.5px;top:509.9px;width:20px;height:10px;line-height:10px;text-align:center;">5</div>
<div class="t cl c1" style="left:204.5px;top:509.9px;width:20px;height:10px;line-height:10px;text-align:center;">6</div>
<div class="t cl c1" style="left:222.5px;top:509.9px;width:20px;height:10px;line-height:10px;text-align:center;">7</div>
<div class="t cl c1" style="left:239.5px;top:509.9px;width:20px;height:10px;line-height:10px;text-align:center;">8</div>
<div class="t cl c1" style="left:257.5px;top:509.9px;width:20px;height:10px;line-height:10px;text-align:center;">9</div>
<div class="t cl" style="left:275.5px;top:509.9px;width:20px;height:10px;line-height:10px;text-align:center;">10</div>
<div class="t cl" style="left:293.5px;top:509.9px;width:20px;height:10px;line-height:10px;text-align:center;">11</div>
<div class="t cl" style="left:311.5px;top:509.9px;width:20px;height:10px;line-height:10px;text-align:center;">12</div>
<div class="t cl" style="left:328.5px;top:509.9px;width:20px;height:10px;line-height:10px;text-align:center;">13</div>
<div class="t cl" style="left:346.5px;top:509.9px;width:20px;height:10px;line-height:10px;text-align:center;">14</div>
<div class="t cl" style="left:364.5px;top:509.9px;width:20px;height:10px;line-height:10px;text-align:center;">15</div>
<div class="t cl" style="left:382.5px;top:509.9px;width:20px;height:10px;line-height:10px;text-align:center;">16</div>
<div class="t cl" style="left:400.5px;top:509.9px;width:20px;height:10px;line-height:10px;text-align:center;">17</div>
<div class="t cl" style="left:417.5px;top:509.9px;width:20px;height:10px;line-height:10px;text-align:center;">18</div>
<div class="t cl" style="left:435.5px;top:509.9px;width:20px;height:10px;line-height:10px;text-align:center;">19</div>
<div class="t cl" style="left:453.5px;top:509.9px;width:20px;height:10px;line-height:10px;text-align:center;">20</div>
<div class="t cl" style="left:471.5px;top:509.9px;width:20px;height:10px;line-height:10px;text-align:center;">21</div>
<div class="t cl" style="left:488.5px;top:509.9px;width:20px;height:10px;line-height:10px;text-align:center;">22</div>
<div class="t cl" style="left:506.5px;top:509.9px;width:20px;height:10px;line-height:10px;text-align:center;">23</div>
<div class="t cl" style="left:524.5px;top:509.9px;width:20px;height:10px;line-height:10px;text-align:center;">24</div>
<div class="t cl" style="left:542.5px;top:509.9px;width:20px;height:10px;line-height:10px;text-align:center;">25</div>
<div class="t cl" style="left:560.5px;top:509.9px;width:20px;height:10px;line-height:10px;text-align:center;">26</div>
<div class="t cl" style="left:577.5px;top:509.9px;width:20px;height:10px;line-height:10px;text-align:center;">27</div>
<div class="t cl" style="left:595.5px;top:509.9px;width:20px;height:10px;line-height:10px;text-align:center;">28</div>
<div class="t cl" style="left:613.5px;top:509.9px;width:20px;height:10px;line-height:10px;text-align:center;">29</div>
<div class="t cl" style="left:631.5px;top:509.9px;width:20px;height:10px;line-height:10px;text-align:center;">30</div>
<div class="t cl" style="left:649.5px;top:509.9px;width:20px;height:10px;line-height:10px;text-align:center;">31</div>
<div class="t cl" style="left:666.5px;top:509.9px;width:20px;height:10px;line-height:10px;text-align:center;">32</div>
<div class="t cl" style="left:684.5px;top:509.9px;width:20px;height:10px;line-height:10px;text-align:center;">33</div>
<div class="t cl" style="left:702.5px;top:509.9px;width:20px;height:10px;line-height:10px;text-align:center;">34</div>
<div class="t cl" style="left:720.5px;top:509.9px;width:20px;height:10px;line-height:10px;text-align:center;">35</div>
<div class="t cl" style="left:738.5px;top:509.9px;width:20px;height:10px;line-height:10px;text-align:center;">36</div>
<div class="t cl" style="left:755.5px;top:509.9px;width:20px;height:10px;line-height:10px;text-align:center;">37</div>
<div class="t cl" style="left:773.5px;top:509.9px;width:20px;height:10px;line-height:10px;text-align:center;">38</div>
<div class="t cl" style="left:791.5px;top:509.9px;width:20px;height:10px;line-height:10px;text-align:center;">39</div>
<div class="t cl" style="left:809.5px;top:509.9px;width:20px;height:10px;line-height:10px;text-align:center;">40</div>
<div class="t cl" style="left:827.5px;top:509.9px;width:20px;height:10px;line-height:10px;text-align:center;">41</div>
<div class="t cl" style="left:844.5px;top:509.9px;width:20px;height:10px;line-height:10px;text-align:center;">42</div>
<div class="t cl" style="left:862.5px;top:509.9px;width:20px;height:10px;line-height:10px;text-align:center;">43</div>
<div class="t cl" style="left:880.5px;top:509.9px;width:20px;height:10px;line-height:10px;text-align:center;">44</div>
<div class="t cl" style="left:898.5px;top:509.9px;width:20px;height:10px;line-height:10px;text-align:center;">45</div>
<div class="t cl" style="left:915.5px;top:509.9px;width:20px;height:10px;line-height:10px;text-align:center;">46</div>
<div class="t cl" style="left:933.5px;top:509.9px;width:20px;height:10px;line-height:10px;text-align:center;">47</div>
<div class="t cl" style="left:951.5px;top:509.9px;width:20px;height:10px;line-height:10px;text-align:center;">48</div>
<div class="t cl" style="left:969.5px;top:509.9px;width:20px;height:10px;line-height:10px;text-align:center;">49</div>
<div class="t cl" style="left:986.5px;top:509.9px;width:20px;height:10px;line-height:10px;text-align:center;">50</div>
<div class="t yl neg" style="left:80px;top:702.8033333333333px;width:34.6px;height:13px;line-height:13px;text-align:right;"><span class="m">-</span>100</div>
<div class="t yl neg" style="left:80px;top:687.4699999999999px;width:34.6px;height:13px;line-height:13px;text-align:right;"><span class="m">-</span>75</div>
<div class="t yl neg" style="left:80px;top:672.1366666666665px;width:34.6px;height:13px;line-height:13px;text-align:right;"><span class="m">-</span>50</div>
<div class="t yl neg" style="left:80px;top:656.8033333333333px;width:34.6px;height:13px;line-height:13px;text-align:right;"><span class="m">-</span>25</div>
<div class="t yl" style="left:80px;top:641.4699999999999px;width:34.6px;height:13px;line-height:13px;text-align:right;">0</div>
<div class="t yl" style="left:80px;top:626.1366666666665px;width:34.6px;height:13px;line-height:13px;text-align:right;">25</div>
<div class="t yl" style="left:80px;top:610.8033333333333px;width:34.6px;height:13px;line-height:13px;text-align:right;">50</div>
<div class="t yl" style="left:80px;top:595.4699999999999px;width:34.6px;height:13px;line-height:13px;text-align:right;">75</div>
<div class="t yl" style="left:80px;top:580.1366666666665px;width:34.6px;height:13px;line-height:13px;text-align:right;">100</div>
<div class="t yl" style="left:80px;top:564.8033333333333px;width:34.6px;height:13px;line-height:13px;text-align:right;">125</div>
<div class="t yl" style="left:80px;top:549.4699999999999px;width:34.6px;height:13px;line-height:13px;text-align:right;">150</div>
<div class="t yl" style="left:80px;top:534.1366666666665px;width:34.6px;height:13px;line-height:13px;text-align:right;">175</div>
<div class="t yl" style="left:80px;top:518.8033333333333px;width:34.6px;height:13px;line-height:13px;text-align:right;">200</div>
</body>
</html>
